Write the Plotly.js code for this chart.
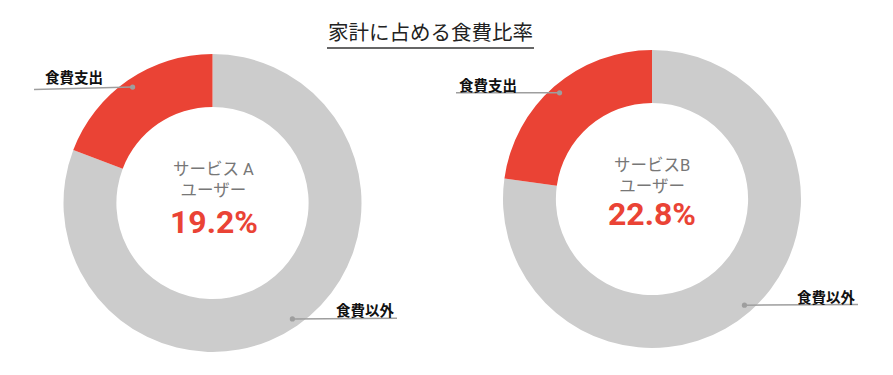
<!DOCTYPE html>
<html>
<head>
<meta charset="utf-8">
<script src="https://cdn.plot.ly/plotly-3.0.1.min.js"></script>
<style>html,body{margin:0;padding:0;background:#fff;}#chart{width:893px;height:375px;}</style>
</head>
<body>
<div id="chart"></div>
<script>
// ---- data ----
const chartTitle = '家計に占める食費比率';
const groupNames = ['サービス A<br>ユーザー', 'サービスB<br>ユーザー'];
const categories = ['食費支出', '食費以外'];
const foodShare = [19.2, 22.8];
const otherShare = [80.8, 77.2];
const percentLabels = ['19.2%', '22.8%'];

// ---- styling / layout ----
const W = 893, H = 375;
const sliceColors = ['#EA4335', '#CCCCCC'];
const pieGeom = [{cx: 212.5, cy: 203, r: 149}, {cx: 652, cy: 199, r: 149}];
const centerText = [{x: 213.5, y: 179.5, py: 222}, {x: 651.5, y: 175.5, py: 214.5}];
// label placement for [food, other] on each pie
const labelPos = [
  [{tx: 43, ty: 76, anchor: 'left', lineX: 34, lineDy: 2.5}, {tx: 397, ty: 309.5, anchor: 'right', lineX: 397, lineDy: -0.7}],
  [{tx: 457, ty: 84.5, anchor: 'left', lineX: 456, lineDy: 0}, {tx: 858, ty: 296.5, anchor: 'right', lineX: 858, lineDy: -0.7}]
];
const px = x => x / W;
const py = y => 1 - y / H;
const FONT = 'Roboto, "Noto Sans CJK JP", "Noto Sans", sans-serif';
const JFONT = '"Noto Sans CJK JP", "Noto Sans", sans-serif';

const traces = [];
const shapes = [];
const annotations = [];

foodShare.forEach((f, i) => {
  const g = pieGeom[i];
  const vals = [f, otherShare[i]];
  // drawn clockwise from 12 o'clock with "other" first, so food ends at 12 o'clock on the left
  traces.push({
    type: 'pie',
    values: [otherShare[i], f],
    labels: [categories[1], categories[0]],
    sort: false,
    direction: 'clockwise',
    rotation: 0,
    hole: 0.645,
    textinfo: 'none',
    hoverinfo: 'label+percent',
    marker: {colors: [sliceColors[1], sliceColors[0]], line: {width: 0}},
    showlegend: false,
    domain: {
      x: [px(g.cx - g.r), px(g.cx + g.r)],
      y: [(H - g.cy - g.r) / H, (H - g.cy + g.r) / H]
    }
  });

  // leader dots and lines computed from slice mid-angles (food counterclockwise from 12 o'clock)
  const total = vals[0] + vals[1];
  let cum = 0;
  vals.forEach((v, k) => {
    const mid = (cum + v / 2) / total * 2 * Math.PI;
    cum += v;
    const rr = g.r * 0.945;
    const dx = g.cx - rr * Math.sin(mid);
    const dy = g.cy - rr * Math.cos(mid);
    const lp = labelPos[i][k];
    shapes.push({
      type: 'line', xref: 'paper', yref: 'paper',
      x0: px(dx), y0: py(dy), x1: px(lp.lineX), y1: py(dy + lp.lineDy),
      line: {color: '#9E9E9E', width: 1.5}
    });
    shapes.push({
      type: 'circle', xref: 'paper', yref: 'paper',
      x0: px(dx - 2.6), x1: px(dx + 2.6), y0: py(dy - 2.6), y1: py(dy + 2.6),
      fillcolor: '#9E9E9E', line: {width: 0}
    });
    annotations.push({
      xref: 'paper', yref: 'paper', x: px(lp.tx), y: py(lp.ty),
      xanchor: lp.anchor, yanchor: 'middle', showarrow: false,
      text: '<b>' + categories[k] + '</b>',
      font: {family: JFONT, size: 14.5, color: '#111111'}
    });
  });

  const ct = centerText[i];
  annotations.push({
    xref: 'paper', yref: 'paper', x: px(ct.x), y: py(ct.y),
    xanchor: 'center', yanchor: 'middle', showarrow: false,
    text: groupNames[i],
    font: {family: FONT, size: 16.5, color: '#777777'}
  });
  annotations.push({
    xref: 'paper', yref: 'paper', x: px(ct.x), y: py(ct.py),
    xanchor: 'center', yanchor: 'middle', showarrow: false,
    text: '<b>' + percentLabels[i] + '</b>',
    font: {family: FONT, size: 32, color: '#EA4335'}
  });
});

// title underline
shapes.push({
  type: 'line', xref: 'paper', yref: 'paper',
  x0: px(327), x1: px(534), y0: py(48), y1: py(48),
  line: {color: '#333333', width: 1.5}
});

const layout = {
  width: W, height: H,
  margin: {l: 0, r: 0, t: 0, b: 0},
  paper_bgcolor: '#ffffff',
  title: {
    text: chartTitle,
    x: px(430.5), y: py(33), xanchor: 'center', yanchor: 'middle',
    xref: 'paper', yref: 'paper',
    font: {family: JFONT, size: 20.5, color: '#222222'}
  },
  shapes: shapes,
  annotations: annotations
};

Plotly.newPlot('chart', traces, layout, {displayModeBar: false, staticPlot: true});
</script>
</body>
</html>
